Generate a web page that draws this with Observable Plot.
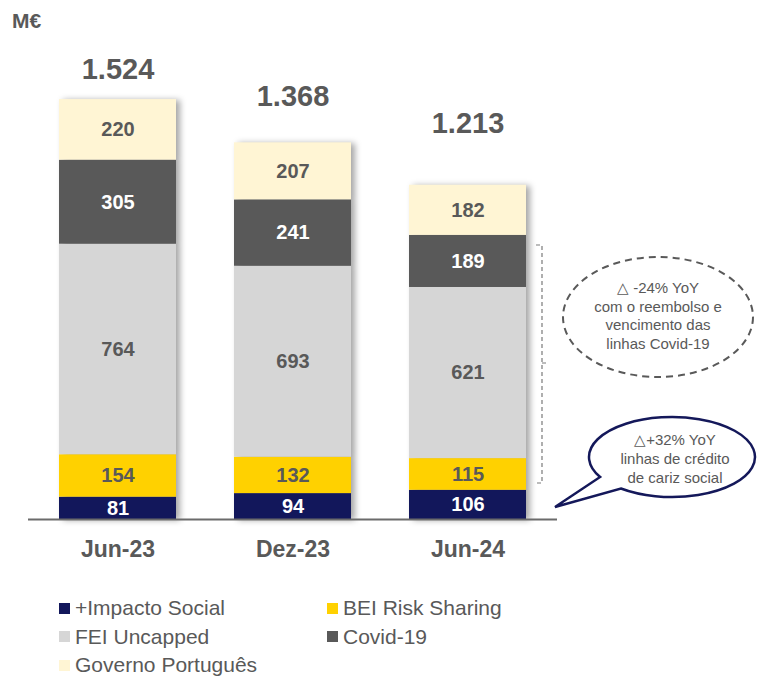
<!DOCTYPE html>
<html><head><meta charset="utf-8">
<script src="https://cdn.jsdelivr.net/npm/d3@7"></script>
<script src="https://cdn.jsdelivr.net/npm/@observablehq/plot@0.6"></script>
<style>
body{margin:0;background:#fff;font-family:"Liberation Sans",Arial,sans-serif;}
#wrap{position:relative;width:758px;height:676px;overflow:hidden;background:#fff;}
#chart svg g[aria-label="bar"]{filter:drop-shadow(4px 1px 3px rgba(0,0,0,0.35));}
.unit{position:absolute;left:12px;top:9px;font-size:21px;font-weight:bold;color:#595959;line-height:24px;}
.li{position:absolute;font-size:21px;color:#595959;line-height:24px;white-space:nowrap;}
.sw{position:absolute;width:11px;height:11px;}
</style></head><body>
<div id="wrap"><div id="chart"></div><div class="unit">M€</div><div id="legend"></div></div>
<script>
const periods = ["Jun-23","Dez-23","Jun-24"];
const series = ["+Impacto Social","BEI Risk Sharing","FEI Uncapped","Covid-19","Governo Português"];
const impactoSocial = [81,94,106];
const beiRiskSharing = [154,132,115];
const feiUncapped = [764,693,621];
const covid19 = [305,241,189];
const governoPortugues = [220,207,182];
const totals = [1524,1368,1213];
const colors = ["#12175B","#FFD100","#D6D6D6","#595959","#FFF5D4"];
const annotationCovid = ["△ -24% YoY","com o reembolso e","vencimento das","linhas Covid-19"];
const annotationSocial = ["△+32% YoY","linhas de crédito","de cariz social"];

const values = [impactoSocial, beiRiskSharing, feiUncapped, covid19, governoPortugues];
const rows = [];
series.forEach((s,si)=>periods.forEach((p,pi)=>rows.push({period:p,series:s,value:values[si][pi]})));
const fmt = d3.formatLocale({decimal:",",thousands:".",grouping:[3],currency:["","€"]}).format(",");
const totalRows = periods.map((p,i)=>({period:p,total:totals[i],label:fmt(totals[i])}));
const dark = new Set(["+Impacto Social","Covid-19"]);
const FONT = '"Liberation Sans",Arial,sans-serif';
const W = 758, H = 590, BASE = 519;
const totalOffsets = [-30,-46,-62];

const plot = Plot.plot({
  width: W, height: H,
  marginLeft: 0, marginRight: 172, marginTop: 23, marginBottom: H - BASE,
  x: {domain: periods, padding: 0.33, label: null},
  y: {domain: [0, 1800], axis: null},
  color: {domain: series, range: colors},
  style: {fontFamily: FONT, color: "#595959", background: "white"},
  marks: [
    Plot.barY(rows, Plot.stackY({x: "period", y: "value", z: "series", fill: "series"})),
    Plot.ruleY([0], {stroke: "#6b6b6b", strokeWidth: 2, insetLeft: 28, insetRight: 29}),
    Plot.text(rows, Plot.stackY({x: "period", y: "value", z: "series",
      text: d => dark.has(d.series) ? null : String(d.value),
      fill: "#595959", fontSize: 20, fontWeight: "bold"})),
    Plot.text(rows, Plot.stackY({x: "period", y: "value", z: "series",
      text: d => dark.has(d.series) ? String(d.value) : null,
      fill: "white", fontSize: 20, fontWeight: "bold"})),
    ...totalRows.map((r,i) => Plot.text([r], {x: "period", y: "total", text: "label",
      dy: totalOffsets[i], fill: "#595959", fontSize: 29, fontWeight: "bold"})),
    Plot.axisX({tickSize: 0, tickPadding: 21, fontSize: 23, fontWeight: "bold", fill: "#595959"})
  ]
});
document.getElementById("chart").appendChild(plot);

// annotations
const svg = d3.select(plot);
const xs = plot.scale("x");
const bx = xs.apply("Jun-24") + xs.bandwidth + 16;
const ann = svg.append("g").attr("font-family", FONT);
ann.append("path")
  .attr("d", `M${bx-6},245 H${bx} V483 H${bx-6} M${bx},363 H${bx+5}`)
  .attr("fill","none").attr("stroke","#7a7a7a").attr("stroke-width",1.2).attr("stroke-dasharray","4,3");
ann.append("ellipse").attr("cx",658).attr("cy",317).attr("rx",95).attr("ry",60)
  .attr("fill","white").attr("stroke","#595959").attr("stroke-width",2).attr("stroke-dasharray","7,5");
annotationCovid.forEach((t,i)=>ann.append("text").attr("x",658).attr("y",288+i*18.5)
  .attr("dy","0.35em").attr("text-anchor","middle").attr("font-size",15).attr("fill","#595959").text(t));
const cx = 672, cy = 457, rx = 83, ry = 40;
const pt = a => [cx + rx*Math.cos(a*Math.PI/180), cy + ry*Math.sin(a*Math.PI/180)];
const p1 = pt(150), p2 = pt(128);
ann.append("path")
  .attr("d", `M${p1[0]},${p1[1]} A${rx},${ry} 0 1 1 ${p2[0]},${p2[1]} L555,507 Z`)
  .attr("fill","white").attr("stroke","#14185A").attr("stroke-width",2.5).attr("stroke-linejoin","miter");
annotationSocial.forEach((t,i)=>ann.append("text").attr("x",675).attr("y",440+i*19)
  .attr("dy","0.35em").attr("text-anchor","middle").attr("font-size",15).attr("fill","#595959").text(t));

// legend
const leg = document.getElementById("legend");
series.forEach((s,i)=>{
  const row = Math.floor(i/2), col = i%2;
  const yc = 608 + row*28.5;
  const sx = col ? 327 : 59;
  const sw = document.createElement("div");
  sw.className = "sw"; sw.style.left = sx+"px"; sw.style.top = (yc-5.5)+"px"; sw.style.background = colors[i];
  leg.appendChild(sw);
  const lb = document.createElement("div");
  lb.className = "li"; lb.style.left = (sx+16)+"px"; lb.style.top = (yc-12)+"px"; lb.textContent = s;
  leg.appendChild(lb);
});
</script>
</body></html>
